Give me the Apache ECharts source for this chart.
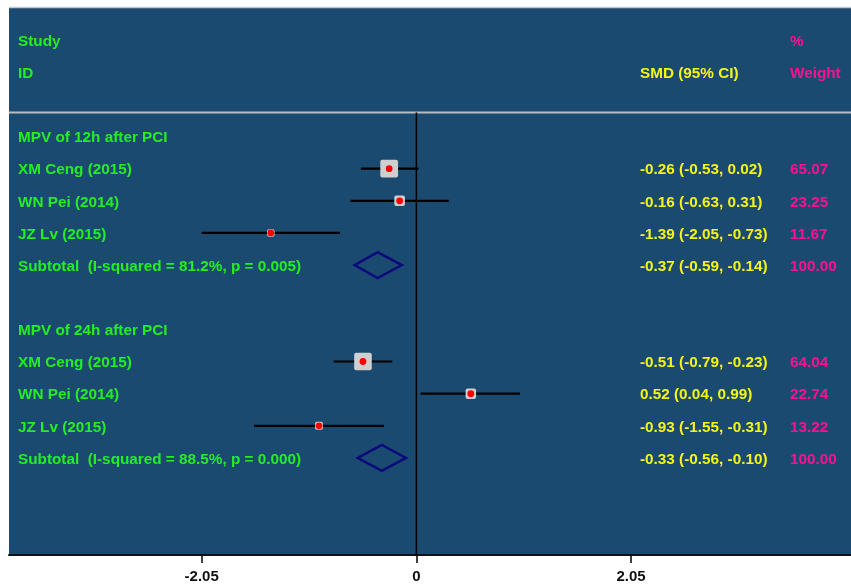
<!DOCTYPE html>
<html>
<head>
<meta charset="utf-8">
<script src="https://cdn.jsdelivr.net/npm/echarts@6/dist/echarts.min.js"></script>
<style>
  html, body { margin: 0; padding: 0; background: #ffffff; }
  #chart { width: 851px; height: 585px; }
</style>
</head>
<body>
<div id="chart"></div>
<script>
// ---- data ----
const headerStudy = ['Study', 'ID'];
const headerSmd = 'SMD (95% CI)';
const headerWeight = ['%', 'Weight'];

const groupTitles = ['MPV of 12h after PCI', 'MPV of 24h after PCI'];

const studyNames = ['XM Ceng (2015)', 'WN Pei (2014)', 'JZ Lv (2015)',
                    'XM Ceng (2015)', 'WN Pei (2014)', 'JZ Lv (2015)'];
const studyGroup = [0, 0, 0, 1, 1, 1];
const smd    = [-0.26, -0.16, -1.39, -0.51, 0.52, -0.93];
const ciLow  = [-0.53, -0.63, -2.05, -0.79, 0.04, -1.55];
const ciHigh = [ 0.02,  0.31, -0.73, -0.23, 0.99, -0.31];
const weights = [65.07, 23.25, 11.67, 64.04, 22.74, 13.22];

const subtotalLabels = ['Subtotal  (I-squared = 81.2%, p = 0.005)',
                        'Subtotal  (I-squared = 88.5%, p = 0.000)'];
const subtotalSmd  = [-0.37, -0.33];
const subtotalLow  = [-0.59, -0.56];
const subtotalHigh = [-0.14, -0.10];
const subtotalWeight = [100.00, 100.00];

const tickValues = [-2.05, 0, 2.05];
const tickLabels = ['-2.05', '0', '2.05'];

// ---- row layout ----
const studyRow = [];
const titleRow = [];
const subtotalRow = [];
let r = 3;
groupTitles.forEach((t, g) => {
  titleRow[g] = r++;
  studyGroup.forEach((sg, i) => { if (sg === g) studyRow[i] = r++; });
  subtotalRow[g] = r++;
  r++;
});

// ---- styling ----
const FONT = 'bold 15.3px "Liberation Sans", Arial, sans-serif';
const GREEN = '#22ee22';
const YELLOW = '#f4f416';
const PINK = '#ff1090';
const COL_STUDY = 18;
const COL_SMD = 640;
const COL_WEIGHT = 790;
const TEXT_DY = 1.5;
const SEP_ROW = 2.25;
const Y_MIN = -1.03, Y_MAX = 16.02;

function fmtCI(e, lo, hi) {
  return e.toFixed(2) + ' (' + lo.toFixed(2) + ', ' + hi.toFixed(2) + ')';
}
// heavy text: a zero-blur shadow half a pixel to the right fattens the strokes
function txt(x, y, text, fill) {
  return { type: 'text', x: x, y: y + TEXT_DY, z2: 5,
           style: { text: text, fill: fill, font: FONT, align: 'left', verticalAlign: 'middle',
                    shadowColor: fill, shadowBlur: 0, shadowOffsetX: 0.6, shadowOffsetY: 0 } };
}

const chart = echarts.init(document.getElementById('chart'), null, { renderer: 'canvas' });

const option = {
  animation: false,
  backgroundColor: '#ffffff',
  grid: {
    show: true, left: 9, right: 0, top: 7, bottom: 30,
    backgroundColor: '#1b4a71', borderWidth: 0, containLabel: false
  },
  xAxis: {
    type: 'value', min: -3.89, max: 4.15,
    splitLine: { show: false },
    axisLine: { show: true, onZero: false, lineStyle: { color: '#111111', width: 2 } },
    axisTick: { show: true, inside: false, customValues: tickValues, length: 8,
                lineStyle: { color: '#000000', width: 1.5 } },
    axisLabel: {
      show: true, customValues: tickValues, margin: 14,
      color: '#111111', fontSize: 15, fontWeight: 'bold', fontFamily: '"Liberation Sans", Arial, sans-serif',
      formatter: v => tickLabels[tickValues.indexOf(v)] ?? ''
    }
  },
  yAxis: { type: 'value', inverse: true, min: Y_MIN, max: Y_MAX, show: false, splitLine: { show: false } },
  series: [
    // reference lines: top border, header separator, line of no effect
    {
      type: 'custom', silent: true, clip: false, z: 1,
      data: [[0, 0]],
      renderItem: (params, api) => {
        const top = api.coord([0, Y_MIN]);
        const sep = api.coord([0, SEP_ROW]);
        const bot = api.coord([0, Y_MAX]);
        const cs = params.coordSys;
        return {
          type: 'group',
          children: [
            { type: 'line', shape: { x1: cs.x, y1: top[1] + 0.5, x2: cs.x + cs.width, y2: top[1] + 0.5 },
              style: { stroke: '#c4c8cc', lineWidth: 1.5 } },
            { type: 'line', shape: { x1: cs.x, y1: sep[1], x2: cs.x + cs.width, y2: sep[1] },
              style: { stroke: '#b8bcc0', lineWidth: 2 } },
            { type: 'line', shape: { x1: sep[0], y1: sep[1], x2: bot[0], y2: bot[1] },
              style: { stroke: '#000000', lineWidth: 1.5 } }
          ]
        };
      }
    },
    // header and group titles
    {
      type: 'custom', silent: true, clip: false, z: 3,
      data: [[0, 0]],
      renderItem: (params, api) => {
        const children = [];
        headerStudy.forEach((t, i) => children.push(txt(COL_STUDY, api.coord([0, i])[1], t, GREEN)));
        children.push(txt(COL_SMD, api.coord([0, 1])[1], headerSmd, YELLOW));
        headerWeight.forEach((t, i) => children.push(txt(COL_WEIGHT, api.coord([0, i])[1], t, PINK)));
        groupTitles.forEach((t, g) => children.push(txt(COL_STUDY, api.coord([0, titleRow[g]])[1], t, GREEN)));
        return { type: 'group', children: children };
      }
    },
    // individual studies
    {
      type: 'custom', silent: true, clip: false, z: 4,
      encode: { x: [0, 2, 3], y: 1 },
      data: smd.map((v, i) => [v, studyRow[i], ciLow[i], ciHigh[i], weights[i]]),
      renderItem: (params, api) => {
        const i = params.dataIndex;
        const row = api.value(1);
        const c = api.coord([api.value(0), row]);
        const lo = api.coord([api.value(2), row]);
        const hi = api.coord([api.value(3), row]);
        const s = 2.2 * Math.sqrt(api.value(4));
        return {
          type: 'group',
          children: [
            { type: 'line', shape: { x1: lo[0], y1: c[1], x2: hi[0], y2: c[1] },
              style: { stroke: '#000000', lineWidth: 2.2 } },
            { type: 'rect', shape: { x: c[0] - s / 2, y: c[1] - s / 2, width: s, height: s, r: 2 },
              style: { fill: '#cfcfcf' } },
            { type: 'circle', shape: { cx: c[0], cy: c[1], r: 3.4 }, style: { fill: '#ff0000' } },
            txt(COL_STUDY, c[1], studyNames[i], GREEN),
            txt(COL_SMD, c[1], fmtCI(smd[i], ciLow[i], ciHigh[i]), YELLOW),
            txt(COL_WEIGHT, c[1], weights[i].toFixed(2), PINK)
          ]
        };
      }
    },
    // subtotals (pooled diamonds)
    {
      type: 'custom', silent: true, clip: false, z: 4,
      encode: { x: [0, 2, 3], y: 1 },
      data: subtotalSmd.map((v, g) => [v, subtotalRow[g], subtotalLow[g], subtotalHigh[g]]),
      renderItem: (params, api) => {
        const g = params.dataIndex;
        const row = api.value(1);
        const c = api.coord([api.value(0), row]);
        const lo = api.coord([api.value(2), row]);
        const hi = api.coord([api.value(3), row]);
        const h = 13;
        return {
          type: 'group',
          children: [
            { type: 'polygon',
              shape: { points: [[lo[0], c[1]], [c[0], c[1] - h], [hi[0], c[1]], [c[0], c[1] + h]] },
              style: { fill: null, stroke: '#0a0a7c', lineWidth: 2.5, lineJoin: 'miter' } },
            txt(COL_STUDY, c[1], subtotalLabels[g], GREEN),
            txt(COL_SMD, c[1], fmtCI(subtotalSmd[g], subtotalLow[g], subtotalHigh[g]), YELLOW),
            txt(COL_WEIGHT, c[1], subtotalWeight[g].toFixed(2), PINK)
          ]
        };
      }
    }
  ]
};

chart.setOption(option);
</script>
</body>
</html>
